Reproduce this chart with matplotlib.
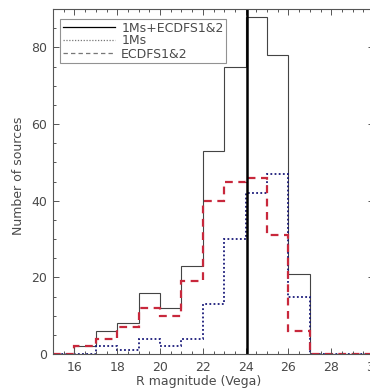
import numpy as np
import matplotlib
matplotlib.use("Agg")
import matplotlib.pyplot as plt
from matplotlib.lines import Line2D
from matplotlib.ticker import MultipleLocator

# Data (bins of 1 mag from 15 to 30)
bin_edges = [15, 16, 17, 18, 19, 20, 21, 22, 23, 24, 25, 26, 27, 28, 29, 30]
total_counts = [0, 2, 6, 8, 16, 12, 23, 53, 75, 88, 78, 21, 0, 0, 0]
ms1_counts = [0, 0, 2, 1, 4, 2, 4, 13, 30, 42, 47, 15, 0, 0, 0]
ecdfs_counts = [0, 2, 4, 7, 12, 10, 19, 40, 45, 46, 31, 6, 0, 0, 0]
vline_mag = 24.05
legend_labels = ["1Ms+ECDFS1&2", "1Ms", "ECDFS1&2"]
x_ticks = [16, 18, 20, 22, 24, 26, 28, 30]
y_ticks = [0, 20, 40, 60, 80]

W, H = 370, 391
fig = plt.figure(figsize=(W / 100, H / 100), dpi=100)
left, right, top, bottom = 53, 374, 9, 354
ax = fig.add_axes([left / W, (H - bottom) / H, (right - left) / W, (bottom - top) / H])

txt = "#4a4a4a"
ax.stairs(total_counts, bin_edges, color="#444444", lw=0.8, baseline=None)
ax.stairs(ms1_counts, bin_edges, color="#1a1a7a", lw=1.3, ls=(0, (1, 1.3)), baseline=None)
ax.stairs(ecdfs_counts, bin_edges, color="#c8283c", lw=1.6, ls=(0, (3.5, 2.5)), baseline=None)
ax.axvline(vline_mag, color="black", lw=1.8)

ax.set_xlim(15, 30)
ax.set_ylim(0, 90)
ax.set_xticks(x_ticks)
ax.set_yticks(y_ticks)
ax.xaxis.set_minor_locator(MultipleLocator(0.5))
ax.yaxis.set_minor_locator(MultipleLocator(5))
ax.tick_params(which="both", direction="in", top=True, right=True, colors="#555555",
               labelcolor=txt, labelsize=9)
ax.tick_params(which="major", length=4.3, width=0.7)
ax.tick_params(which="minor", length=2.2, width=0.7)
ax.tick_params(axis="x", pad=5)
ax.tick_params(axis="y", pad=4)
for s in ax.spines.values():
    s.set_color("#555555")
    s.set_linewidth(0.8)

ax.set_xlabel("R magnitude (Vega)", fontsize=9, color=txt)
ax.xaxis.set_label_coords(0.455, -0.062)
ax.set_ylabel("Number of sources", fontsize=9, color=txt)
ax.yaxis.set_label_coords(-0.086, 0.516)

handles = [Line2D([], [], color="black", lw=0.9),
           Line2D([], [], color="#777777", lw=0.9, ls=(0, (1, 1.3))),
           Line2D([], [], color="#777777", lw=0.9, ls=(0, (3.5, 2.5)))]
leg = ax.legend(handles, legend_labels, loc="upper left", bbox_to_anchor=(7 / 321, 1 - 10 / 345),
                fontsize=9, frameon=True, fancybox=False, handlelength=4.2, handletextpad=0.5,
                labelspacing=0.0, borderpad=0.2, borderaxespad=0, labelcolor=txt)
leg.get_frame().set_edgecolor("#777777")
leg.get_frame().set_linewidth(0.8)

fig.savefig("out.png", dpi=100)
